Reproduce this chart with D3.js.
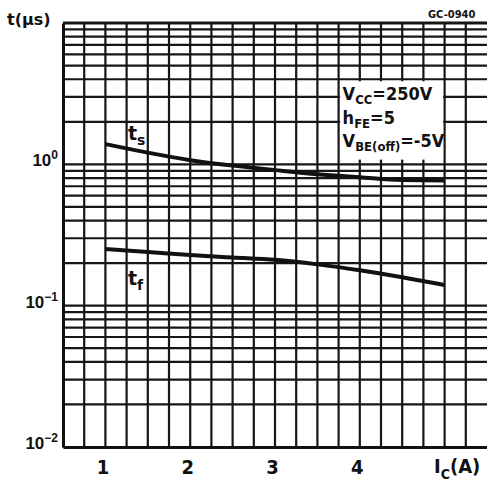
<!DOCTYPE html>
<html lang="en">
<head>
<meta charset="utf-8">
<title>Switching times vs collector current</title>
<script type="text/javascript" src="https://cdnjs.cloudflare.com/ajax/libs/d3/7.8.5/d3.min.js"></script>
<style>
body {
margin: 0;
background: #fff;
}
text {
font-family: "DejaVu Sans", sans-serif;
font-weight: bold;
fill: #111;
}
</style>
</head>
<body>
<script type="text/javascript">

//DATA
var icValues = [1, 1.5, 2, 2.5, 3, 3.5, 4, 4.5, 5];
var tsValues = [1.39, 1.21, 1.07, 0.98, 0.91, 0.85, 0.81, 0.775, 0.77];
var tfValues = [0.252, 0.24, 0.228, 0.219, 0.211, 0.196, 0.178, 0.159, 0.14];
var xTickLabels = [1, 2, 3, 4];
var yTickLabels = [0.01, 0.1, 1];
var yExponents = ["\u22122", "\u22121", "0"];
var conditions = [["V", "CC", "=250V"], ["h", "FE", "=5"], ["V", "BE(off)", "=-5V"]];

var w = 487;
var h = 487;

var svg = d3.select("body")
.append("svg")
.attr("width", w)
.attr("height", h);

var x = d3.scaleLinear().domain([0.5, 5.5]).range([63, 487]);
var y = d3.scaleLog().domain([0.01, 10]).range([447, 23]);

//GRID
var xGrid = d3.range(0.75, 5.5, 0.25);
var yGrid = y.ticks();

svg.selectAll("line.vgrid")
.data(xGrid)
.enter()
.append("line")
.attr("class", "vgrid")
.attr("x1", function(d) { return x(d); })
.attr("x2", function(d) { return x(d); })
.attr("y1", y(10))
.attr("y2", y(0.01))
.attr("stroke", "#161616")
.attr("stroke-width", 2.2);

svg.selectAll("line.hgrid")
.data(yGrid)
.enter()
.append("line")
.attr("class", "hgrid")
.attr("x1", x(0.5))
.attr("x2", x(5.5))
.attr("y1", function(d) { return y(d); })
.attr("y2", function(d) { return y(d); })
.attr("stroke", "#161616")
.attr("stroke-width", function(d) { return d == 10 ? 3 : 2.2; });

//white box behind the test conditions
svg.append("rect")
.attr("x", x(3.75) + 1.5)
.attr("y", y(4) + 2)
.attr("width", x(5) - x(3.75) - 3)
.attr("height", y(1.08) - y(4) - 2)
.attr("fill", "#fff");

//AXES
var xAxis = d3.axisBottom(x)
.tickValues(xTickLabels)
.tickSize(0)
.tickSizeOuter(0)
.tickPadding(13)
.tickFormat(d3.format("d"));

var gx = svg.append("g")
.attr("transform", "translate(0," + y(0.01) + ")")
.call(xAxis);
gx.select(".domain").attr("stroke", "#111").attr("stroke-width", 3);
gx.selectAll("text")
.attr("font-size", 20)
.style("font-family", "'DejaVu Sans Condensed', 'DejaVu Sans', sans-serif")
.attr("dx", -3);

var yAxis = d3.axisLeft(y)
.tickValues(yTickLabels)
.tickSize(0)
.tickSizeOuter(0)
.tickPadding(5)
.tickFormat("");

var gy = svg.append("g")
.attr("transform", "translate(" + x(0.5) + ",0)")
.call(yAxis);
gy.select(".domain").attr("stroke", "#111").attr("stroke-width", 3);
gy.selectAll("text")
.attr("dy", "0.08em")
.attr("font-size", 17)
.style("font-family", "'Liberation Sans', Arial, sans-serif")
.each(function(d, i) {
  var t = d3.select(this);
  t.append("tspan").text("10");
  t.append("tspan")
  .attr("font-size", 12)
  .attr("dy", -7)
  .text(yExponents[i]);
});

//CURVES
var line = d3.line()
.x(function(d, i) { return x(icValues[i]); })
.y(function(d) { return y(d); })
.curve(d3.curveMonotoneX);

svg.append("path")
.datum(tsValues)
.attr("d", line)
.attr("fill", "none")
.attr("stroke", "#111")
.attr("stroke-width", 4);

svg.append("path")
.datum(tfValues)
.attr("d", line)
.attr("fill", "none")
.attr("stroke", "#111")
.attr("stroke-width", 4);

//LABELS
function subLabel(px, py, main, sub, rest, size, subSize) {
  var t = svg.append("text")
  .attr("x", px)
  .attr("y", py)
  .attr("font-size", size);
  t.append("tspan").text(main);
  t.append("tspan").attr("font-size", subSize).attr("dy", size * 0.28).text(sub);
  if (rest) {
    t.append("tspan").attr("dy", -size * 0.28).text(rest);
  }
  return t;
}

subLabel(128, 140, "t", "s", null, 19, 14);
subLabel(128, 285, "t", "f", null, 19, 14);
subLabel(434, 473, "I", "C", "(A)", 20, 14)
.style("font-family", "'DejaVu Sans Condensed', 'DejaVu Sans', sans-serif");

svg.append("text")
.attr("x", 7)
.attr("y", 25)
.attr("font-size", 16)
.text("t(\u00b5s)");

svg.append("text")
.attr("x", 428)
.attr("y", 18)
.attr("font-size", 11)
.style("font-family", "'DejaVu Sans Condensed', 'DejaVu Sans', sans-serif")
.text("GC-0940");

svg.selectAll("text.cond")
.data(conditions)
.enter()
.append("text")
.attr("class", "cond")
.attr("x", x(3.75) + 4)
.attr("y", function(d, i) { return 100 + i * 23.5; })
.attr("font-size", 18)
.style("font-family", "'DejaVu Sans Condensed', 'DejaVu Sans', sans-serif")
.each(function(d) {
  var t = d3.select(this);
  t.append("tspan").text(d[0]);
  t.append("tspan").attr("font-size", 13).attr("dy", 4).text(d[1]);
  t.append("tspan").attr("dy", -4).text(d[2]);
});

</script>
</body>
</html>
